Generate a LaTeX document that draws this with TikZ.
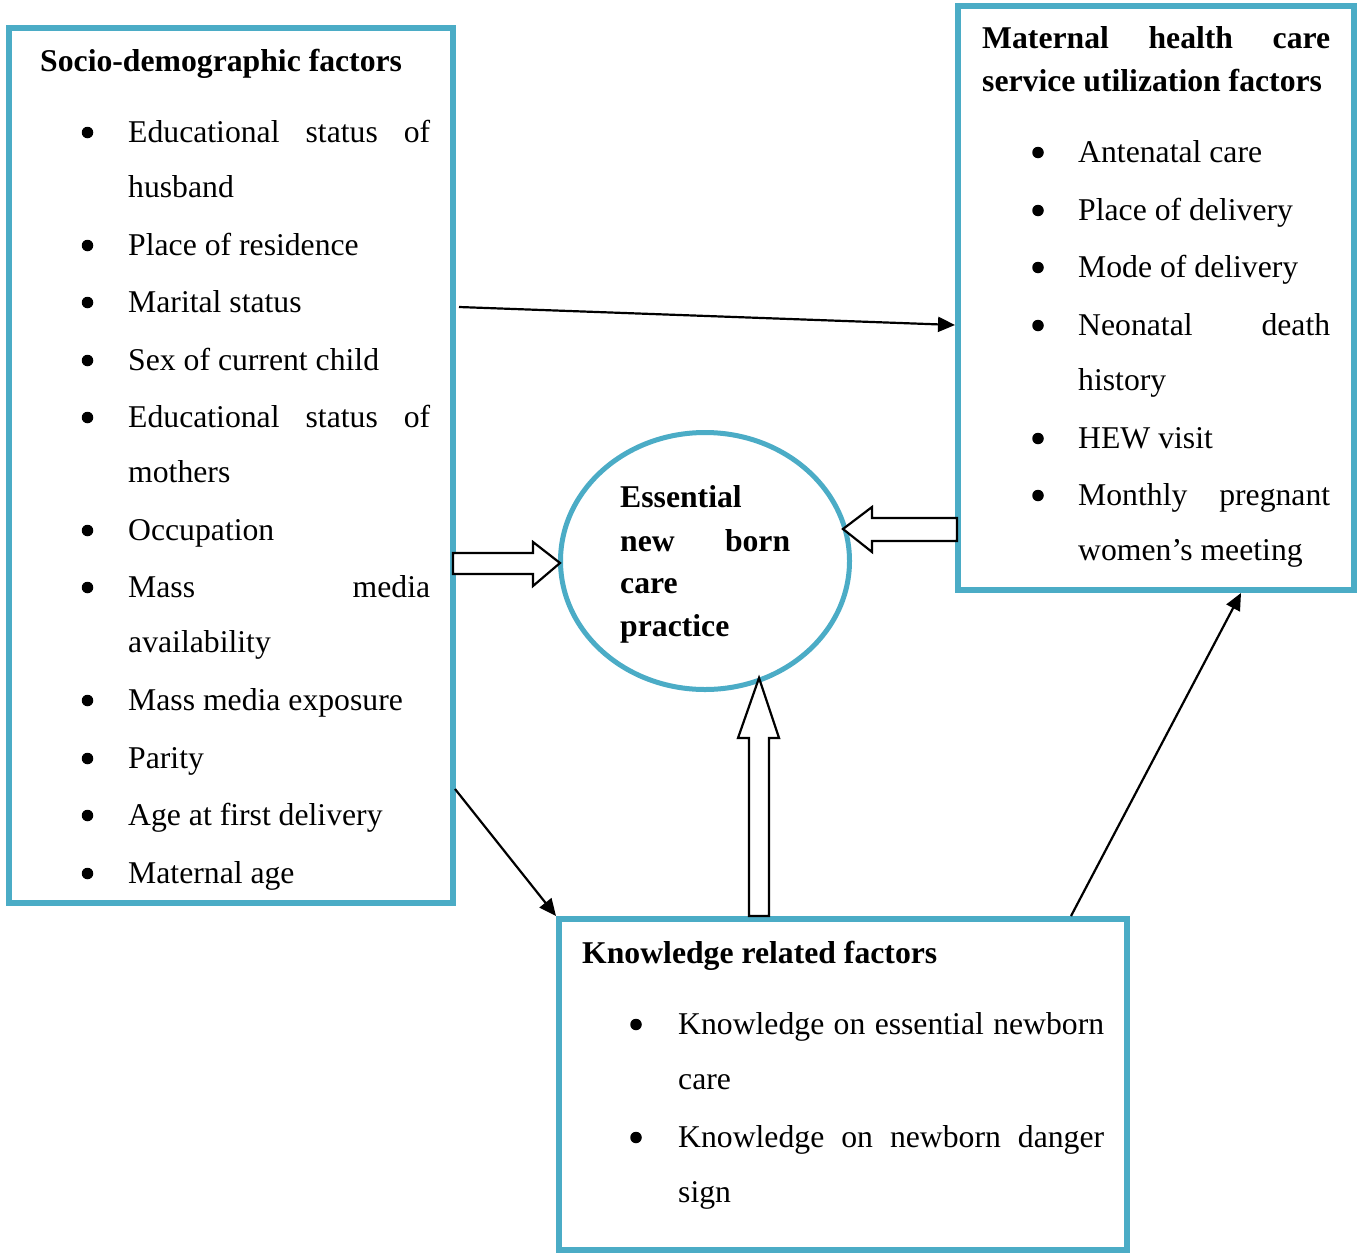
\documentclass[tikz,border=0pt]{standalone}
\usepackage{fontspec}
\setmainfont{Liberation Serif}
\usetikzlibrary{shapes.geometric,arrows.meta}
\definecolor{boxblue}{HTML}{4BACC6}
\begin{document}
\begin{tikzpicture}[x=1pt,y=-1pt,
  box/.style={draw=boxblue,line width=6pt,rectangle,inner sep=0pt},
  txt/.style={anchor=base west,inner sep=0pt,font=\fontsize{31.7}{38}\selectfont},
  btxt/.style={anchor=base west,inner sep=0pt,font=\fontsize{31.7}{38}\selectfont\bfseries},
  bul/.style={circle,fill=black,inner sep=0pt,minimum size=11.5pt},
  conn/.style={line width=2.2pt,-{Triangle[length=17pt,width=15pt]}},
  blockarrow/.style={draw=black,line width=2.2pt,fill=white,line join=miter}]
\useasboundingbox (0,0) rectangle (1359,1253);
\fill[white] (0,0) rectangle (1359,1253);

% boxes
\node[box,minimum width=444pt,minimum height=875pt] (sd) at (231,465.5) {};
\node[box,minimum width=396pt,minimum height=584pt] (mh) at (1156,298) {};
\node[box,minimum width=568pt,minimum height=331pt] (kn) at (843,1084.5) {};
\node[ellipse,draw=boxblue,line width=5pt,inner sep=0pt,minimum width=289pt,minimum height=257pt] (enc) at (705,561) {};

% left box text
\node[btxt] (sdt) at (40,71) {Socio-demographic factors};
\foreach \y/\n in {142/b1,255/b2,312/b3,370/b4,427/b5,540/b6,597/b7,710/b8,768/b9,825/b10,883/b11}
  \node[bul] (\n) at (87.5,\y-9.5) {};
\node[txt] (l1) at (128,142) {\makebox[302pt][s]{Educational status of}};
\node[txt] (l2) at (128,197) {husband};
\node[txt] (l3) at (128,255) {Place of residence};
\node[txt] (l4) at (128,312) {Marital status};
\node[txt] (l5) at (128,370) {Sex of current child};
\node[txt] (l6) at (128,427) {\makebox[302pt][s]{Educational status of}};
\node[txt] (l7) at (128,482) {mothers};
\node[txt] (l8) at (128,540) {Occupation};
\node[txt] (l9) at (128,597) {\makebox[302pt][s]{Mass media}};
\node[txt] (l10) at (128,652) {availability};
\node[txt] (l11) at (128,710) {Mass media exposure};
\node[txt] (l12) at (128,768) {Parity};
\node[txt] (l13) at (128,825) {Age at first delivery};
\node[txt] (l14) at (128,883) {Maternal age};

% right box text
\node[btxt] (mht1) at (982,48) {\makebox[348pt][s]{Maternal health care}};
\node[btxt] (mht2) at (982,91) {service utilization factors};
\foreach \y/\n in {162/rb1,220/rb2,277/rb3,335/rb4,448/rb5,505/rb6}
  \node[bul] (\n) at (1038,\y-9.5) {};
\node[txt] (r1) at (1078,162) {Antenatal care};
\node[txt] (r2) at (1078,220) {Place of delivery};
\node[txt] (r3) at (1078,277) {Mode of delivery};
\node[txt] (r4) at (1078,335) {\makebox[252pt][s]{Neonatal death}};
\node[txt] (r5) at (1078,390) {history};
\node[txt] (r6) at (1078,448) {HEW visit};
\node[txt] (r7) at (1078,505) {\makebox[252pt][s]{Monthly pregnant}};
\node[txt] (r8) at (1078,560) {women’s meeting};

% bottom box text
\node[btxt] (knt) at (582,963) {Knowledge related factors};
\foreach \y/\n in {1034/kb1,1147/kb2}
  \node[bul] (\n) at (636,\y-9.5) {};
\node[txt] (k1) at (678,1034) {\makebox[426pt][s]{Knowledge on essential newborn}};
\node[txt] (k2) at (678,1089) {care};
\node[txt] (k3) at (678,1147) {\makebox[426pt][s]{Knowledge on newborn danger}};
\node[txt] (k4) at (678,1202) {sign};

% ellipse text
\node[btxt] (e1) at (620,507) {Essential};
\node[btxt] (e2) at (620,551) {\makebox[170pt][s]{new born}};
\node[btxt] (e3) at (620,593) {care};
\node[btxt] (e4) at (620,636) {practice};

% thin connectors
\coordinate (c1s) at (459,307);
\coordinate (c1e) at (955,325);
\coordinate (c2s) at (455,789);
\coordinate (c3s) at (1071,916);
\coordinate (c3e) at (1241,593);
\draw[conn] (c1s) -- (c1e);
\draw[conn] (c2s) -- (kn.north west);
\draw[conn] (c3s) -- (c3e);

% block arrows
\draw[blockarrow] (453,553) -- (533,553) -- (533,542) -- (560,563) -- (533,586) -- (533,574) -- (453,574) -- cycle;
\draw[blockarrow] (957,518) -- (872,518) -- (872,507) -- (843,529) -- (872,552) -- (872,541) -- (957,541) -- cycle;
\draw[blockarrow] (749,916) -- (749,738) -- (738,738) -- (759,678) -- (779,738) -- (769,738) -- (769,916) -- cycle;
\end{tikzpicture}
\end{document}
